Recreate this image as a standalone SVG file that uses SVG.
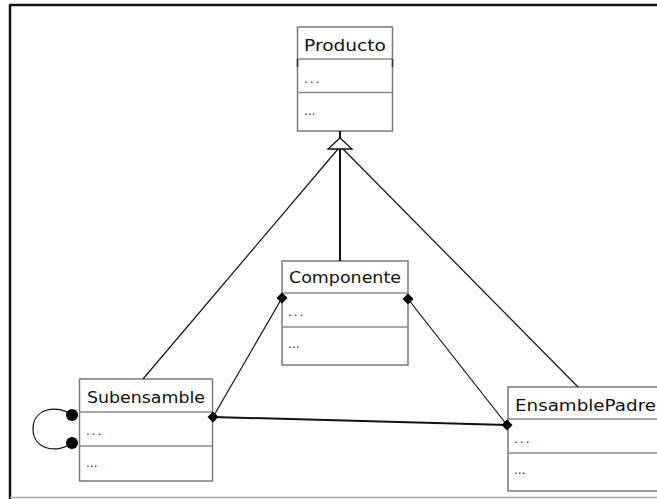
<svg xmlns="http://www.w3.org/2000/svg" width="657" height="499" viewBox="0 0 657 499">
  <style>
    .box { fill: #ffffff; stroke: #7a7a7a; stroke-width: 1.5; }
    .sep { stroke: #8a8a8a; stroke-width: 1.5; }
    .name { font-family: "DejaVu Sans", "Liberation Sans", sans-serif; font-size: 16px; fill: #111; }
    .dots { font-family: "DejaVu Sans", "Liberation Sans", sans-serif; font-size: 12px; fill: #333; }
    .link { stroke: #111; stroke-width: 1.2; fill: none; }
    .thick { stroke: #111; stroke-width: 2; fill: none; }
    .end { fill: #000; }
  </style>
  <defs>
    <path id="dia" d="M0,-5.5 L5.5,0 L0,5.5 L-5.5,0 Z"/>
  </defs>

  <!-- frame -->
  <rect x="0" y="0" width="657" height="499" fill="#ffffff"/>
  <line x1="9" y1="5" x2="657" y2="5" stroke="#111" stroke-width="2.5"/>
  <line x1="10" y1="5" x2="10" y2="499" stroke="#111" stroke-width="2.5"/>
  <line x1="10" y1="497.5" x2="657" y2="497.5" stroke="#aaa" stroke-width="1.5"/>

  <!-- classes -->
  <g id="producto">
    <rect class="box" x="297.5" y="27" width="95" height="104"/>
    <line class="sep" x1="297.5" y1="59" x2="392.5" y2="59"/>
    <line class="sep" x1="297.5" y1="92.5" x2="392.5" y2="92.5"/>
    <line x1="297.5" y1="59" x2="297.5" y2="67" stroke="#333" stroke-width="1.5"/>
    <line x1="392.5" y1="59" x2="392.5" y2="67" stroke="#333" stroke-width="1.5"/>
    <text class="name" x="304" y="50.5" textLength="82" lengthAdjust="spacingAndGlyphs">Producto</text>
    <text class="dots" x="304" y="83" letter-spacing="2">...</text>
    <text class="dots" x="304" y="115">...</text>
  </g>

  <g id="componente">
    <rect class="box" x="282" y="261" width="126" height="104"/>
    <line class="sep" x1="282" y1="293" x2="408" y2="293"/>
    <line class="sep" x1="282" y1="327" x2="408" y2="327"/>
    <text class="name" x="289" y="283" textLength="112" lengthAdjust="spacingAndGlyphs">Componente</text>
    <text class="dots" x="288" y="316" letter-spacing="2">...</text>
    <text class="dots" x="288" y="348">...</text>
  </g>

  <g id="subensamble">
    <rect class="box" x="79.5" y="379" width="133" height="102"/>
    <line class="sep" x1="79.5" y1="412" x2="212.5" y2="412"/>
    <line class="sep" x1="79.5" y1="446" x2="212.5" y2="446"/>
    <text class="name" x="87" y="402.5" textLength="118" lengthAdjust="spacingAndGlyphs">Subensamble</text>
    <text class="dots" x="86" y="435" letter-spacing="2">...</text>
    <text class="dots" x="86" y="467">...</text>
  </g>

  <g id="ensamblepadre">
    <rect class="box" x="508" y="387" width="160" height="104"/>
    <line class="sep" x1="508" y1="419" x2="668" y2="419"/>
    <line class="sep" x1="508" y1="453" x2="668" y2="453"/>
    <text class="name" x="515" y="411" textLength="141" lengthAdjust="spacingAndGlyphs">EnsamblePadre</text>
    <text class="dots" x="514" y="443" letter-spacing="2">...</text>
    <text class="dots" x="514" y="474">...</text>
  </g>

  <!-- connectors -->
  <g id="connectors">
    <line class="link" x1="338" y1="149" x2="143" y2="379"/>
    <line class="link" x1="343" y1="149" x2="578" y2="387"/>
    <line class="thick" x1="340" y1="131" x2="340" y2="139"/>
    <line class="thick" x1="340" y1="149" x2="340" y2="261"/>
    <polygon points="340,138 352,149 328,149" fill="#fff" stroke="#111" stroke-width="1.3"/>
    <line class="link" x1="282" y1="298" x2="213" y2="417"/>
    <line class="link" x1="408" y1="299" x2="507" y2="425"/>
    <line class="thick" x1="213" y1="417" x2="507" y2="425"/>
    <path class="link" d="M72,415 C58,404 33,408 33,429 C33,450 58,454 72,443"/>
    <use href="#dia" class="end" x="282" y="298"/>
    <use href="#dia" class="end" x="408" y="299"/>
    <use href="#dia" class="end" x="213" y="417"/>
    <use href="#dia" class="end" x="507" y="425"/>
    <ellipse class="end" cx="72" cy="415" rx="6" ry="6"/>
    <ellipse class="end" cx="72" cy="443" rx="6" ry="6"/>
  </g>
</svg>
